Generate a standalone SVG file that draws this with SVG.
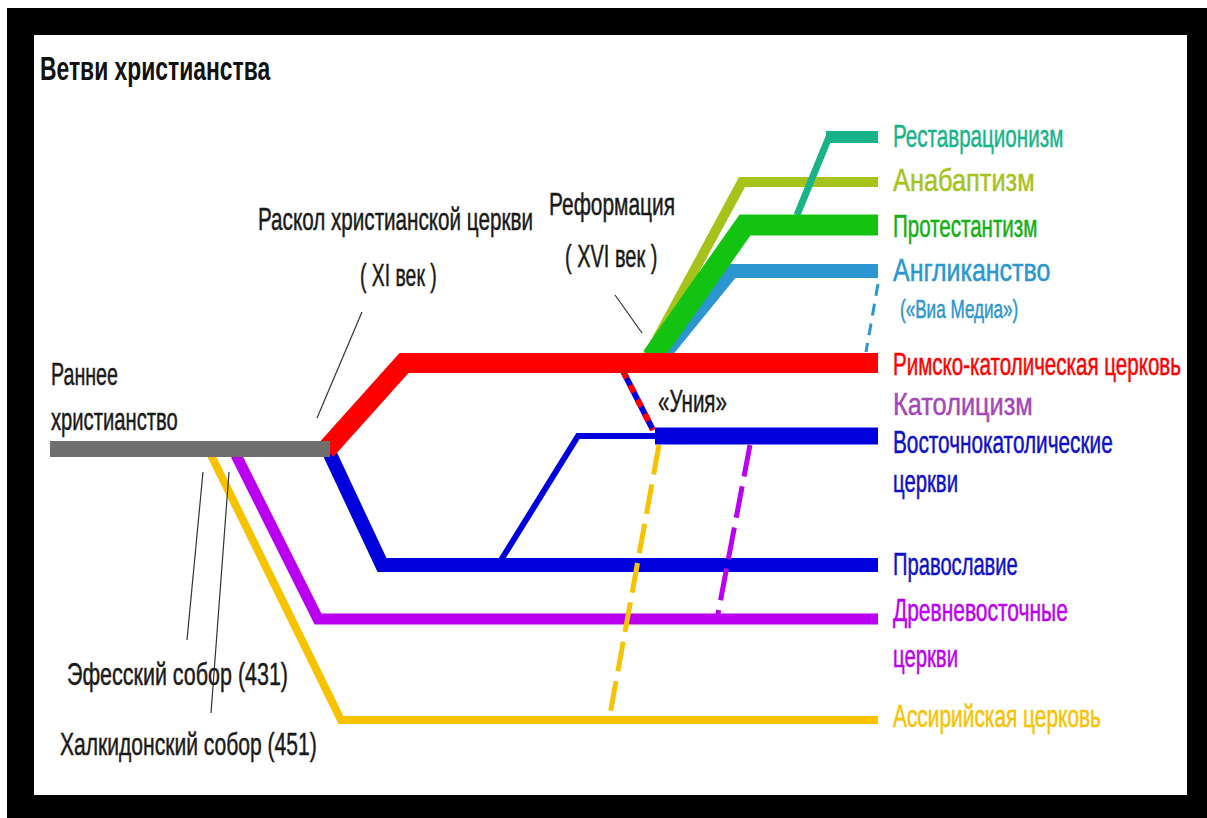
<svg xmlns="http://www.w3.org/2000/svg" width="1207" height="818" viewBox="0 0 1207 818">
<style>
  text { font-family: "Liberation Sans", Arial, sans-serif; stroke-width: 0.5; }
  .lbl { font-size: 31px; }
  .blk { fill: #1a1a1a; stroke: #1a1a1a; font-size: 32px; }
  .teal { fill: #19b38a; stroke: #19b38a; }
  .olive { fill: #a6c31c; stroke: #a6c31c; }
  .green { fill: #12b012; stroke: #12b012; }
  .lblue { fill: #2b96cf; stroke: #2b96cf; }
  .red { fill: #ff0000; stroke: #ff0000; }
  .mauve { fill: #a348b8; stroke: #a348b8; }
  .blue { fill: #1010c8; stroke: #1010c8; }
  .purple { fill: #bb00f2; stroke: #bb00f2; }
  .yellow { fill: #f7c300; stroke: #f7c300; }
  .ln { fill: none; stroke-linejoin: miter; stroke-linecap: butt; }
  .ptr { fill: none; stroke: #333; stroke-width: 1.2; }
</style>
<rect x="0" y="0" width="1207" height="818" fill="#ffffff"/>
<rect x="7" y="8" width="1200" height="810" fill="#000000"/>
<rect x="34" y="35" width="1153" height="760" fill="#ffffff"/>

<g id="title"><text transform="translate(40 80) scale(0.65 1)" x="0" y="0" font-size="34" font-weight="bold" fill="#111" textLength="354" lengthAdjust="spacingAndGlyphs">Ветви христианства</text></g>

<g id="connectors">
  <!-- reformation branches -->
  <path class="ln" d="M648,356 L742,182 L878,182" stroke="#a6c31c" stroke-width="10"/>
  <path class="ln" d="M662,357 L732,271 L878,271" stroke="#2b96cf" stroke-width="14"/>
  <path class="ln" d="M797,215 L829,137" stroke="#19b38a" stroke-width="7"/>
  <path class="ln" d="M826,137 L878,137" stroke="#19b38a" stroke-width="12"/>
  <path class="ln" d="M652,357 L745,225 L878,225" stroke="#12c312" stroke-width="21"/>
  <path class="ln" d="M878,284 L866,352" stroke="#2b96cf" stroke-width="3" stroke-dasharray="12 8"/>
  <!-- early branches -->
  <path class="ln" d="M211,455 L341,720 L878,720" stroke="#f7c300" stroke-width="8"/>
  <path class="ln" d="M236,455 L318,619 L878,619" stroke="#bb00f2" stroke-width="11"/>
  <path class="ln" d="M329,452 L382,565 L878,565" stroke="#0000dc" stroke-width="14"/>
  <path class="ln" d="M326,450 L404,363 L878,363" stroke="#ff0000" stroke-width="20"/>
  <path class="ln" d="M498,565 L578,436 L660,436" stroke="#0000dc" stroke-width="6"/>
  <path class="ln" d="M655,436 L878,436" stroke="#0000dc" stroke-width="17"/>
  <path class="ln" d="M50,449 L330,449" stroke="#6e6e6e" stroke-width="16"/>
  <!-- dashed links -->
  <path class="ln" d="M659,445 L609,720" stroke="#f7c300" stroke-width="5" stroke-dasharray="30 10"/>
  <path class="ln" d="M750,445 L717,619" stroke="#bb00f2" stroke-width="5" stroke-dasharray="32 10"/>
  <path class="ln" d="M623,371 L653,430" stroke="#0000dc" stroke-width="6"/>
  <path class="ln" d="M623,371 L653,430" stroke="#ff0000" stroke-width="6" stroke-dasharray="8 8"/>
  <!-- pointers -->
  <line class="ptr" x1="615" y1="295" x2="642" y2="333"/>
  <line class="ptr" x1="362" y1="312" x2="317" y2="418"/>
  <line class="ptr" x1="203" y1="472" x2="187" y2="640"/>
  <line class="ptr" x1="229" y1="472" x2="211" y2="713"/>
</g>

<g id="early"><text class="blk" transform="translate(51 385) scale(0.65 1)" x="0" y="0" textLength="103" lengthAdjust="spacingAndGlyphs">Раннее</text>
<text class="blk" transform="translate(51 430) scale(0.65 1)" x="0" y="0" textLength="195" lengthAdjust="spacingAndGlyphs">христианство</text></g>
<g id="schism"><text class="blk" transform="translate(258 230) scale(0.65 1)" x="0" y="0" font-size="30" textLength="423" lengthAdjust="spacingAndGlyphs">Раскол христианской церкви</text>
<text class="blk" transform="translate(360 286) scale(0.65 1)" x="0" y="0" font-size="30" textLength="118" lengthAdjust="spacingAndGlyphs">( XI век )</text></g>
<g id="reformation"><text class="blk" transform="translate(549 215) scale(0.65 1)" x="0" y="0" font-size="30" textLength="194" lengthAdjust="spacingAndGlyphs">Реформация</text>
<text class="blk" transform="translate(565 267) scale(0.65 1)" x="0" y="0" font-size="30" textLength="142" lengthAdjust="spacingAndGlyphs">( XVI век )</text></g>
<g id="unia"><text class="blk" transform="translate(658 412) scale(0.65 1)" x="0" y="0" font-size="29" textLength="106" lengthAdjust="spacingAndGlyphs">«Уния»</text></g>
<g id="ephesus"><text class="blk" transform="translate(67 685) scale(0.65 1)" x="0" y="0" textLength="340" lengthAdjust="spacingAndGlyphs">Эфесский собор  (431)</text></g>
<g id="chalcedon"><text class="blk" transform="translate(60 755) scale(0.65 1)" x="0" y="0" textLength="395" lengthAdjust="spacingAndGlyphs">Халкидонский собор  (451)</text></g>

<g id="restorationism"><text class="lbl teal" transform="translate(893 147) scale(0.65 1)" x="0" y="0" textLength="262" lengthAdjust="spacingAndGlyphs">Реставрационизм</text></g>
<g id="anabaptism"><text class="lbl olive" transform="translate(893 191) scale(0.65 1)" x="0" y="0" textLength="218" lengthAdjust="spacingAndGlyphs">Анабаптизм</text></g>
<g id="protestantism"><text class="lbl green" transform="translate(893 237) scale(0.65 1)" x="0" y="0" textLength="222" lengthAdjust="spacingAndGlyphs">Протестантизм</text></g>
<g id="anglicanism"><text class="lbl lblue" transform="translate(893 281) scale(0.65 1)" x="0" y="0" textLength="242" lengthAdjust="spacingAndGlyphs">Англиканство</text>
<text class="lblue" transform="translate(900 318) scale(0.65 1)" x="0" y="0" font-size="25" textLength="182" lengthAdjust="spacingAndGlyphs">(«Виа Медиа»)</text></g>
<g id="roman-catholic"><text class="lbl red" transform="translate(893 375) scale(0.65 1)" x="0" y="0" textLength="443" lengthAdjust="spacingAndGlyphs">Римско-католическая церковь</text></g>
<g id="catholicism"><text class="lbl mauve" transform="translate(893 415) scale(0.65 1)" x="0" y="0" textLength="215" lengthAdjust="spacingAndGlyphs">Католицизм</text></g>
<g id="eastern-catholic"><text class="lbl blue" transform="translate(893 453) scale(0.65 1)" x="0" y="0" textLength="338" lengthAdjust="spacingAndGlyphs">Восточнокатолические</text>
<text class="lbl blue" transform="translate(893 492) scale(0.65 1)" x="0" y="0" textLength="100" lengthAdjust="spacingAndGlyphs">церкви</text></g>
<g id="orthodoxy"><text class="lbl blue" transform="translate(893 575) scale(0.65 1)" x="0" y="0" textLength="192" lengthAdjust="spacingAndGlyphs">Православие</text></g>
<g id="oriental"><text class="lbl purple" transform="translate(893 621) scale(0.65 1)" x="0" y="0" textLength="269" lengthAdjust="spacingAndGlyphs">Древневосточные</text>
<text class="lbl purple" transform="translate(893 667) scale(0.65 1)" x="0" y="0" textLength="100" lengthAdjust="spacingAndGlyphs">церкви</text></g>
<g id="assyrian"><text class="lbl yellow" transform="translate(893 727) scale(0.65 1)" x="0" y="0" textLength="320" lengthAdjust="spacingAndGlyphs">Ассирийская церковь</text></g>
</svg>
